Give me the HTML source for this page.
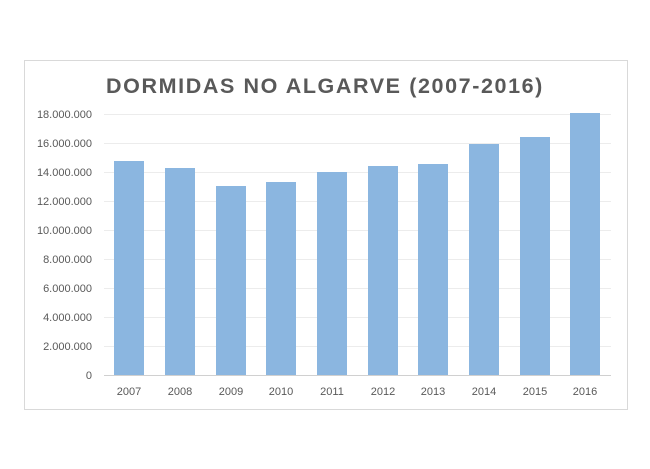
<!DOCTYPE html>
<html><head><meta charset="utf-8"><style>
body{margin:0;background:#fff;width:650px;height:464px;overflow:hidden}
</style></head><body>
<svg width="650" height="464" xmlns="http://www.w3.org/2000/svg" font-family="Liberation Sans, sans-serif">
<rect x="24.5" y="60.5" width="603" height="349" fill="#fff" stroke="#d9d9d9"/>
<text x="325" y="93" text-anchor="middle" font-size="21.5" font-weight="bold" fill="#595959" letter-spacing="1.6">DORMIDAS NO ALGARVE (2007-2016)</text>
<g stroke="#ececec" stroke-width="1">
<line x1="104" x2="611" y1="114.5" y2="114.5"/>
<line x1="104" x2="611" y1="143.5" y2="143.5"/>
<line x1="104" x2="611" y1="172.5" y2="172.5"/>
<line x1="104" x2="611" y1="201.5" y2="201.5"/>
<line x1="104" x2="611" y1="230.5" y2="230.5"/>
<line x1="104" x2="611" y1="259.5" y2="259.5"/>
<line x1="104" x2="611" y1="288.5" y2="288.5"/>
<line x1="104" x2="611" y1="317.5" y2="317.5"/>
<line x1="104" x2="611" y1="346.5" y2="346.5"/>
</g>
<g fill="#595959" font-size="11" text-anchor="end">
<text x="92" y="118">18.000.000</text>
<text x="92" y="147">16.000.000</text>
<text x="92" y="176">14.000.000</text>
<text x="92" y="205">12.000.000</text>
<text x="92" y="234">10.000.000</text>
<text x="92" y="263">8.000.000</text>
<text x="92" y="292">6.000.000</text>
<text x="92" y="321">4.000.000</text>
<text x="92" y="350">2.000.000</text>
<text x="92" y="379">0</text>
</g>
<g fill="#8bb6e0">
<rect x="114" y="161" width="30" height="214"/>
<rect x="165" y="168" width="30" height="207"/>
<rect x="216" y="186" width="30" height="189"/>
<rect x="266" y="182" width="30" height="193"/>
<rect x="317" y="172" width="30" height="203"/>
<rect x="368" y="166" width="30" height="209"/>
<rect x="418" y="164" width="30" height="211"/>
<rect x="469" y="144" width="30" height="231"/>
<rect x="520" y="137" width="30" height="238"/>
<rect x="570" y="113" width="30" height="262"/>
</g>
<line x1="104" x2="611" y1="375.5" y2="375.5" stroke="#d0d0d0"/>
<g fill="#595959" font-size="11" text-anchor="middle">
<text x="129" y="395">2007</text>
<text x="180" y="395">2008</text>
<text x="231" y="395">2009</text>
<text x="281" y="395">2010</text>
<text x="332" y="395">2011</text>
<text x="383" y="395">2012</text>
<text x="433" y="395">2013</text>
<text x="484" y="395">2014</text>
<text x="535" y="395">2015</text>
<text x="585" y="395">2016</text>
</g>
</svg>
</body></html>
